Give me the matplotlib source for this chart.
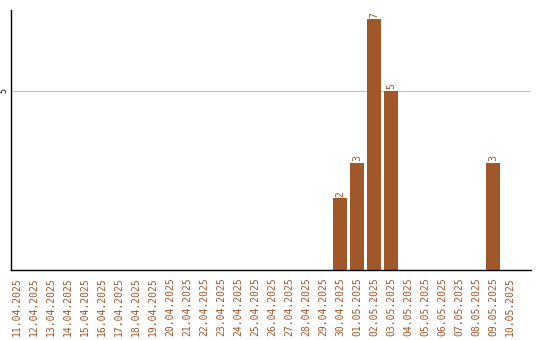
import matplotlib
matplotlib.use("Agg")
import matplotlib.pyplot as plt
import pandas as pd

dates = [d.strftime("%d.%m.%Y") for d in pd.date_range("2025-04-11", "2025-05-10")]
counts = {"30.04.2025": 2, "01.05.2025": 3, "02.05.2025": 7, "03.05.2025": 5, "09.05.2025": 3}
values = [counts.get(d, 0) for d in dates]

color = "#A0582A"
fig = plt.figure(figsize=(5.4, 3.4), dpi=100)
ax = fig.add_axes([11/540, 70/340, 520/540, 260/340])
x = list(range(len(dates)))
bars = ax.bar(x, values, width=0.82, color=color, zorder=2)
for xi, v in zip(x, values):
    if v > 0:
        ax.text(xi, v + 0.05, str(v), rotation=90, ha="center", va="bottom",
                fontsize=7, color=color, family="DejaVu Sans Mono")
ax.set_xlim(-0.35, 29 + 21/17)
ax.set_ylim(0, 7.26)
ax.set_yticks([5])
ax.set_yticklabels(["5"], rotation=90, va="center", fontsize=6, family="DejaVu Sans Mono")
ax.yaxis.grid(True, color="#c8c8c8", linewidth=0.8, zorder=0)
ax.set_xticks(x)
ax.set_xticklabels(dates, rotation=90, fontsize=7, color=color, family="DejaVu Sans Mono")
ax.tick_params(axis="both", length=0, pad=5)
ax.tick_params(axis="y", pad=2)
for s in ["top", "right"]:
    ax.spines[s].set_visible(False)
ax.spines["left"].set_linewidth(1)
ax.spines["bottom"].set_linewidth(1)
fig.savefig("out.png", dpi=100)
